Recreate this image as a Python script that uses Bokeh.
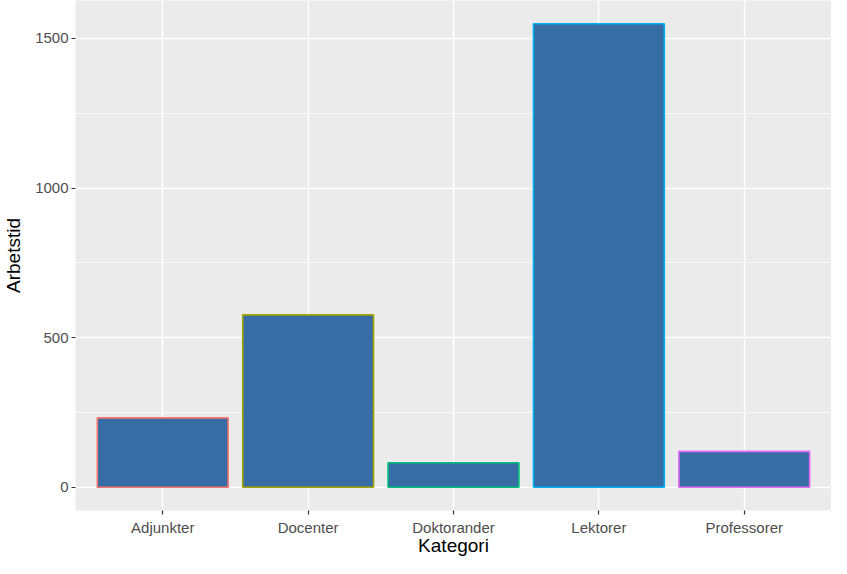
from bokeh.plotting import figure
from bokeh.models import FactorRange, Range1d, FixedTicker, ColumnDataSource
from bokeh.embed import file_html
from bokeh.resources import INLINE

categories = ["Adjunkter", "Docenter", "Doktorander", "Lektorer", "Professorer"]
arbetstid = [232, 576, 82, 1549, 120]
outline_colors = ["#F8766D", "#A3A500", "#00BF7D", "#00B0F6", "#E76BF3"]
y_ticks = [0, 500, 1000, 1500]
y_minor = [250, 750, 1250]

FONT = "Liberation Sans"

source = ColumnDataSource(data=dict(kategori=categories, arbetstid=arbetstid, outline=outline_colors))

ymax = max(arbetstid)
p = figure(
    width=831, height=558,
    x_range=FactorRange(factors=categories, range_padding=0.1, range_padding_units="absolute"),
    y_range=Range1d(-0.05 * ymax, 1.05 * ymax),
    output_backend="svg", toolbar_location=None,
    min_border_left=69, min_border_right=0, min_border_top=0, min_border_bottom=30,
)

p.vbar(x="kategori", top="arbetstid", width=0.9, source=source,
       fill_color="#386CA4", line_color="outline", line_width=1.6)

p.background_fill_color = "#EBEBEB"
p.border_fill_color = "white"
p.outline_line_color = None

p.yaxis.ticker = FixedTicker(ticks=y_ticks, minor_ticks=y_minor)

p.xgrid.grid_line_color = "white"
p.xgrid.grid_line_width = 1.4
p.ygrid.grid_line_color = "white"
p.ygrid.grid_line_width = 1.4
p.ygrid.minor_grid_line_color = "white"
p.ygrid.minor_grid_line_width = 0.7

for ax in (p.xaxis, p.yaxis):
    ax.axis_line_color = None
    ax.major_tick_line_color = "#333333"
    ax.major_tick_line_width = 1.2
    ax.major_tick_out = 4
    ax.major_tick_in = 0
    ax.minor_tick_line_color = None
    ax.major_label_text_font = FONT
    ax.major_label_text_font_size = "15px"
    ax.major_label_text_color = "#4D4D4D"
    ax.major_label_text_line_height = 1.0
    ax.axis_label_text_font = FONT
    ax.axis_label_text_font_size = "19px"
    ax.axis_label_text_font_style = "normal"
    ax.axis_label_text_color = "black"
    ax.axis_label_text_line_height = 1.0

p.xaxis.axis_label = "Kategori"
p.yaxis.axis_label = "Arbetstid"
p.xaxis.major_label_standoff = 4
p.xaxis.axis_label_standoff = -4
p.yaxis.major_label_standoff = 3
p.yaxis.axis_label_standoff = 8

open("out.html", "w").write(file_html(p, INLINE))
